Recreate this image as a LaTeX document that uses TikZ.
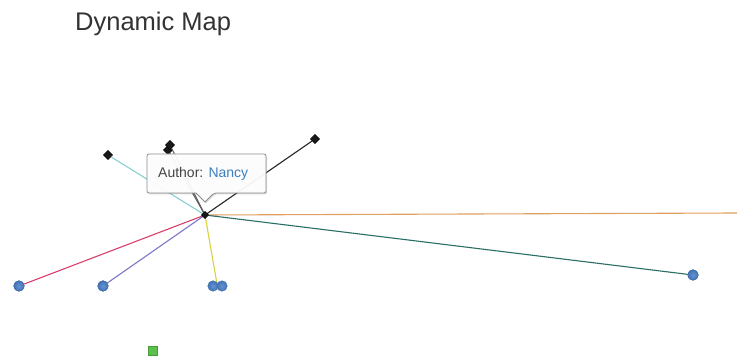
\documentclass[tikz,border=0pt]{standalone}
\usepackage{fontspec}
\setmainfont{Liberation Sans}
\usetikzlibrary{shadows}
\definecolor{titlegrey}{HTML}{333333}
\definecolor{tipgrey}{HTML}{444444}
\definecolor{linkblue}{HTML}{3A7FC0}
\definecolor{dotblue}{HTML}{4A80C8}
\definecolor{dotgreen}{HTML}{5CC04C}
\definecolor{lnteal}{HTML}{88CFD0}
\definecolor{lngrey}{HTML}{606060}
\definecolor{lnred}{HTML}{D8406A}
\definecolor{lnpurple}{HTML}{7C78C8}
\definecolor{lnyellow}{HTML}{D8D040}
\definecolor{lnorange}{HTML}{E0A060}
\definecolor{lndark}{HTML}{2A6E66}
\tikzset{
  edge/.style={line width=1.1pt},
  author/.style={fill=black!90, draw=black, minimum size=6.5pt, inner sep=0pt, rotate=45, rectangle},
  book/.style={circle, inner sep=0pt, minimum size=10.5pt, draw=dotblue!85!black, line width=0.4pt,
               inner color=dotblue!85!white, outer color=dotblue!90!black},
  tag/.style={rectangle, inner sep=0pt, minimum size=9pt, fill=dotgreen, draw=dotgreen!80!black, line width=0.3pt},
}
\begin{document}
\begin{tikzpicture}[x=1pt, y=-1pt]
\useasboundingbox (0,0) rectangle (737,358);
\fill[white] (0,0) rectangle (737,358);

% title
\node[anchor=base west, inner sep=0pt, text=titlegrey, font=\fontsize{25.5}{30}\selectfont] (title) at (75,31) {Dynamic Map};

% nodes
\coordinate (hub) at (205,215);
\coordinate (east) at (737,213);
\node[author] (a1) at (108,155) {};
\node[author] (a2b) at (168,150) {};
\node[author] (a2) at (170,145) {};
\node[author] (a3) at (315,139) {};

% connectors
\draw[edge, lnteal] (hub) -- (a1);
\draw[edge, lngrey] (hub) -- (a2b);
\draw[edge, lngrey] (hub) -- (a2);
\draw[edge, black!85] (hub) -- (a3);
\draw[edge, lnorange] (hub) -- (east);
\node[book] (b5) at (693,275) {};
\draw[edge, lndark] (hub) -- (b5);
\node[book] (b1) at (19,286) {};
\draw[edge, lnred] (hub) -- (b1);
\node[book] (b2) at (103,286) {};
\draw[edge, lnpurple] (hub) -- (b2);
\draw[edge, lnyellow] (hub) -- (217,284);
\node[book] (b3) at (213,286) {};
\node[book] (b4) at (222,286) {};
\node[book] at (b5) {};
\node[book] at (b1) {};
\node[book] at (b2) {};
\node[author, minimum size=5pt] (h) at (hub) {};

\node[tag] (t1) at (153,351) {};

% tooltip
\draw[black!45, line width=0.8pt, fill=white, fill opacity=0.93, rounded corners=2pt,
      drop shadow={opacity=0.25, shadow xshift=1pt, shadow yshift=-1.5pt}]
  (147,154) -- (266,154) -- (266,193) -- (214,193) [sharp corners] -- (205,202) -- (196,193)
  [rounded corners=2pt] -- (147,193) -- cycle;
\node[anchor=base west, inner sep=0pt, font=\fontsize{14}{17}\selectfont] (tip) at (158,178)
  {\textcolor{tipgrey}{Author:} \textcolor{linkblue}{Nancy}};
\end{tikzpicture}
\end{document}
